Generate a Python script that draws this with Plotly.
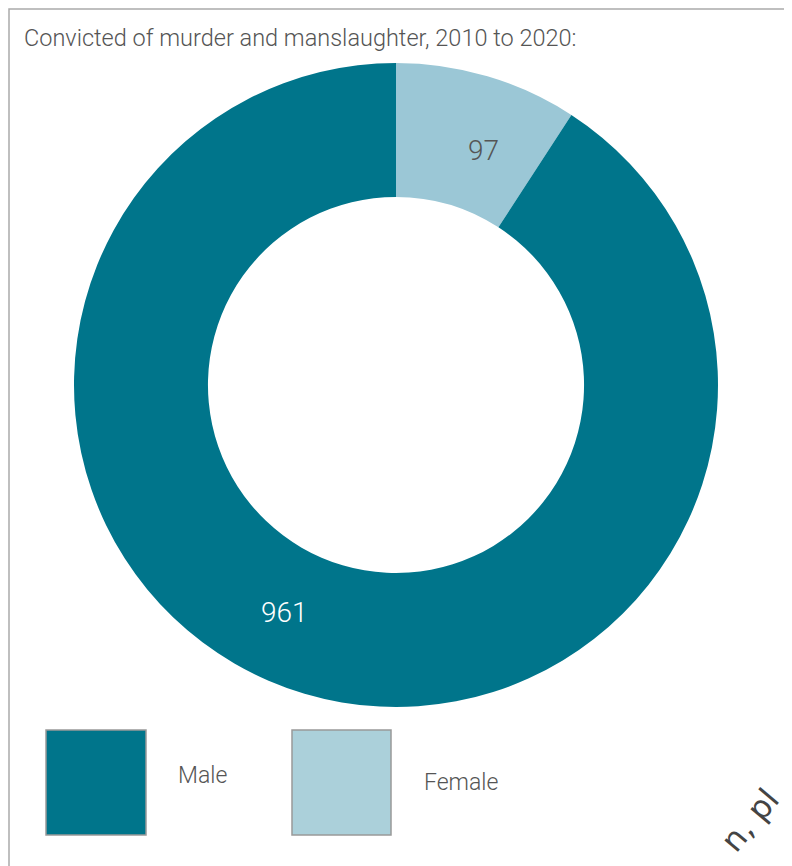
import plotly.graph_objects as go

title_text = "Convicted of murder and manslaughter, 2010 to 2020:"
categories = ["Female", "Male"]
values = [97, 961]
slice_colors = ["#9BC7D6", "#00758B"]
legend_colors = ["#00758B", "#ABD0DA"]
legend_labels = ["Male", "Female"]
label_colors = ["#555555", "#FFFFFF"]

# page body has an 8px margin; figure is sized to fill the rest of the window
OFF = 8
W, H = 792 - OFF, 866 - OFF
def px(x): return (x - OFF) / W
def py(y): return 1 - (y - OFF) / H

fig = go.Figure()
fig.add_trace(go.Pie(
    labels=categories, values=values, hole=0.584, sort=False,
    direction="clockwise", rotation=0,
    marker=dict(colors=slice_colors, line=dict(width=0)),
    textinfo="none", hoverinfo="label+value", showlegend=False,
    domain=dict(x=[px(74), px(718)], y=[py(707), py(63)]),
))

shapes = [dict(type="rect", xref="paper", yref="paper",
               x0=px(9), x1=px(792 + 20), y0=py(866 + 20), y1=py(9),
               line=dict(color="#AAAAAA", width=1.5), fillcolor="rgba(0,0,0,0)", layer="below")]
annotations = [dict(text=title_text, x=px(22), y=py(38), xref="paper", yref="paper",
                    xanchor="left", yanchor="middle", showarrow=False,
                    font=dict(family="Roboto", size=23.5, color="#555555", weight=300))]

# value labels
label_pos = [(484, 151), (284, 612)]
for v, (lx, ly), c in zip(values, label_pos, label_colors):
    annotations.append(dict(text=str(v), x=px(lx), y=py(ly), xref="paper", yref="paper",
                            showarrow=False, xanchor="center", yanchor="middle",
                            font=dict(family="Roboto", size=28, color=c, weight=300)))

# legend swatches
sw = [(46, 146, 176, 775), (292, 391, 422, 782)]
for (x0, x1, tx, ty), col, lab in zip(sw, legend_colors, legend_labels):
    shapes.append(dict(type="rect", xref="paper", yref="paper",
                       x0=px(x0), x1=px(x1), y0=py(835), y1=py(730),
                       fillcolor=col, line=dict(color="#999999", width=1.5)))
    annotations.append(dict(text=lab, x=px(tx), y=py(ty), xref="paper", yref="paper",
                            showarrow=False, xanchor="left", yanchor="middle",
                            font=dict(family="Roboto", size=23, color="#555555", weight=300)))

# watermark fragment
annotations.append(dict(text="n, pl", x=px(750), y=py(820), xref="paper", yref="paper",
                        showarrow=False, textangle=-50, xanchor="center", yanchor="middle",
                        font=dict(family="DejaVu Sans", size=32, color="#444444")))

fig.update_layout(width=W, height=H, margin=dict(l=0, r=0, t=0, b=0),
                  paper_bgcolor="white", plot_bgcolor="white",
                  shapes=shapes, annotations=annotations)
fig.write_html("out.html")
